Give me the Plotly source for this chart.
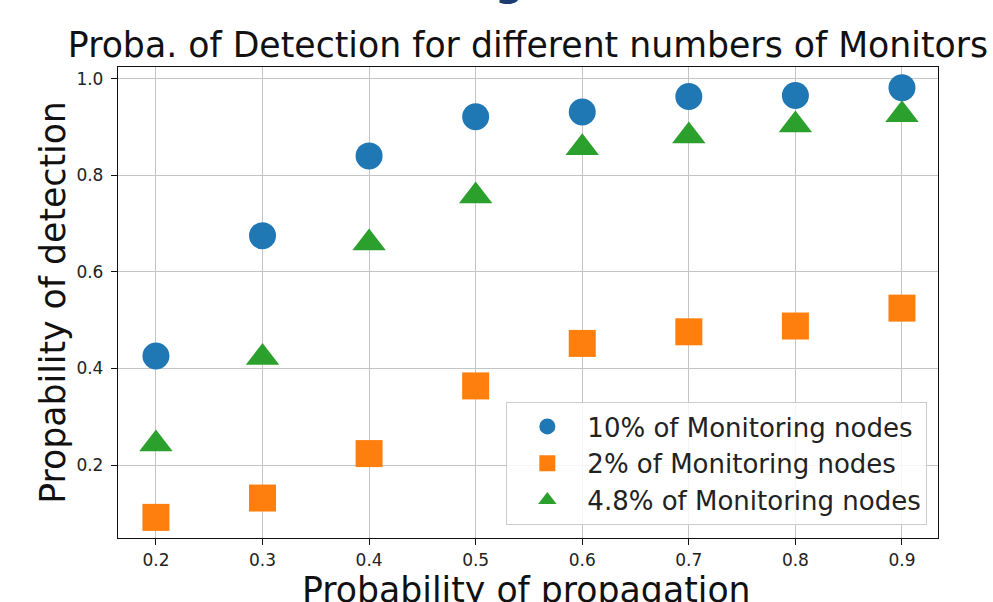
import plotly.graph_objects as go

# Data
prob_propagation = [0.2, 0.3, 0.4, 0.5, 0.6, 0.7, 0.8, 0.9]
tick_labels = ["0.2", "0.3", "0.4", "0.5", "0.6", "0.7", "0.8", "0.9"]
y_ticks = [0.2, 0.4, 0.6, 0.8, 1.0]
y_tick_labels = ["0.2", "0.4", "0.6", "0.8", "1.0"]

detect_10pct = [0.426, 0.675, 0.840, 0.921, 0.931, 0.963, 0.965, 0.981]
detect_2pct = [0.092, 0.132, 0.224, 0.364, 0.452, 0.476, 0.488, 0.525]
detect_4_8pct = [0.244, 0.423, 0.660, 0.757, 0.857, 0.881, 0.904, 0.925]

series_names = ["10% of Monitoring nodes", "2% of Monitoring nodes", "4.8% of Monitoring nodes"]
x_title = "Probability of propagation"
y_title = "Propability of detection"
chart_title = "Proba. of Detection for different numbers of Monitors"

FONT = "DejaVu Sans"

fig = go.Figure()
fig.add_trace(go.Scatter(
    x=prob_propagation, y=detect_10pct, mode="markers", name=series_names[0],
    legendgroup="a",
    marker=dict(symbol="circle", size=27, color="#1f77b4", line=dict(width=0)),
))
fig.add_trace(go.Scatter(
    x=prob_propagation, y=detect_2pct, mode="markers", name=series_names[1],
    legendgroup="b",
    marker=dict(symbol="square", size=27, color="#ff7f0e", line=dict(width=0)),
))
fig.add_trace(go.Scatter(
    x=prob_propagation, y=detect_4_8pct, mode="markers", name=series_names[2],
    legendgroup="c",
    marker=dict(symbol="triangle-up", size=29, color="#2ca02c", line=dict(width=0)),
))

fig.update_layout(
    width=993, height=602,
    margin=dict(l=118, r=55, t=67, b=64, autoexpand=False),
    paper_bgcolor="white", plot_bgcolor="white",
    font=dict(family=FONT, color="#222222"),
    title=dict(
        text=chart_title,
        x=0.5317, xanchor="center", y=0.925, yanchor="middle",
        font=dict(family=FONT, size=34.7, color="#111111"),
    ),
    showlegend=True,
    legend=dict(
        x=0.987, xanchor="right", y=0.0276, yanchor="bottom",
        bgcolor="rgba(255,255,255,0.85)", bordercolor="#cccccc", borderwidth=1,
        font=dict(family=FONT, size=26, color="#222222"),
        tracegroupgap=0, itemsizing="trace", itemwidth=70,
    ),
    xaxis=dict(
        range=[0.1644, 0.9338], tickmode="array", tickvals=prob_propagation, ticktext=tick_labels,
        showgrid=True, gridcolor="#c4c4c4", gridwidth=1,
        showline=True, mirror=True, linecolor="#111111", linewidth=1.3,
        ticks="outside", ticklen=6, tickcolor="#111111",
        tickfont=dict(family=FONT, size=17, color="#222222"),
        zeroline=False,
    ),
    yaxis=dict(
        range=[0.0493, 1.024], tickmode="array", tickvals=y_ticks, ticktext=y_tick_labels,
        showgrid=True, gridcolor="#c4c4c4", gridwidth=1,
        showline=True, mirror=True, linecolor="#111111", linewidth=1.3,
        ticks="outside", ticklen=6, tickcolor="#111111",
        tickfont=dict(family=FONT, size=17, color="#222222"),
        ticklabelstandoff=4,
        zeroline=False,
        title=dict(text=y_title, font=dict(family=FONT, size=34.7, color="#111111"), standoff=0),
    ),
    annotations=[
        dict(
            text=x_title, xref="paper", yref="paper", x=0.4985, y=-0.111,
            xanchor="center", yanchor="middle", showarrow=False,
            font=dict(family=FONT, size=34.7, color="#111111"),
        ),
        dict(
            text="g", xref="paper", yref="paper", x=0.478, y=1.130, xanchor="center", yanchor="bottom",
            showarrow=False, font=dict(family="DejaVu Sans", size=40, color="#1f3a6e", weight="bold"),
        ),
    ],
)

fig.write_html("out.html", config={"displayModeBar": False},
               post_script="document.body.style.margin='0';")
